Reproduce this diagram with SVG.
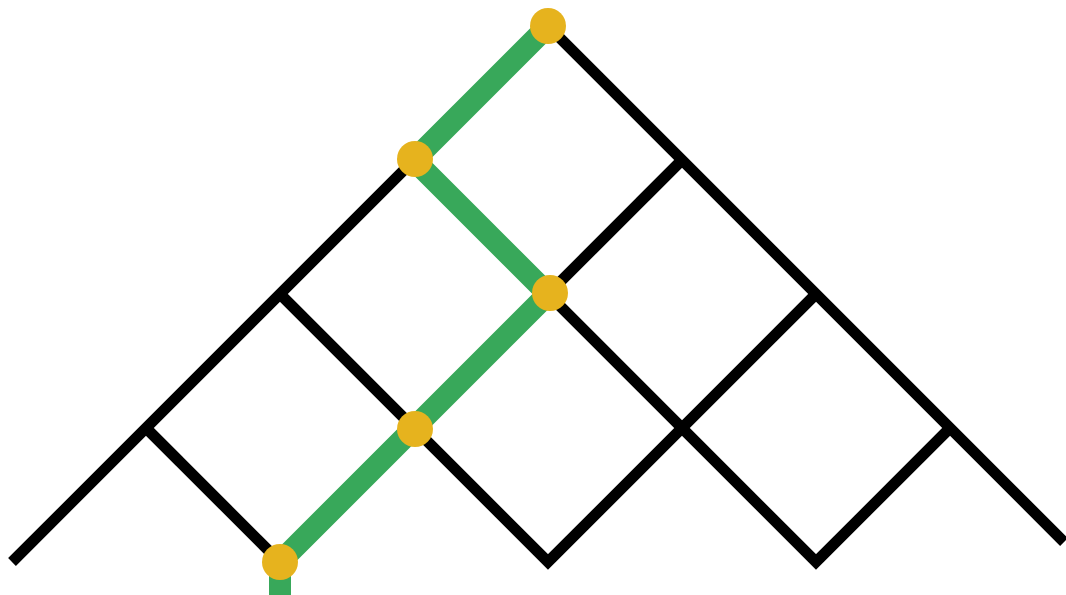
<svg xmlns="http://www.w3.org/2000/svg" width="1066" height="595" viewBox="0 0 1066 595">
<style>
.blk{stroke:#000;stroke-width:11;fill:none;stroke-linecap:butt;stroke-linejoin:miter}
.grn{stroke:#38a85a;stroke-width:22;fill:none;stroke-linecap:butt;stroke-linejoin:miter}
.node{fill:#e6b31e}
</style>
<rect width="1066" height="595" fill="#fff"/>
<g id="connectors">
<polyline class="blk" points="12,562 548,26 1064,542"/>
<polyline class="blk" points="682,160 414,428"/>
<polyline class="blk" points="816,294 548,562 280,294"/>
<polyline class="blk" points="146,428 280,562"/>
<polyline class="blk" points="548,294 816,562 950,428"/>
<polyline class="grn" points="548,26 414,160 548,294 280,562 280,595"/>
</g>
<g id="n1"><circle class="node" cx="548" cy="26" r="18"/></g>
<g id="n2"><circle class="node" cx="415" cy="159" r="18"/></g>
<g id="n3"><circle class="node" cx="550" cy="293" r="18"/></g>
<g id="n4"><circle class="node" cx="415" cy="429" r="18"/></g>
<g id="n5"><circle class="node" cx="280" cy="562" r="18"/></g>
</svg>
